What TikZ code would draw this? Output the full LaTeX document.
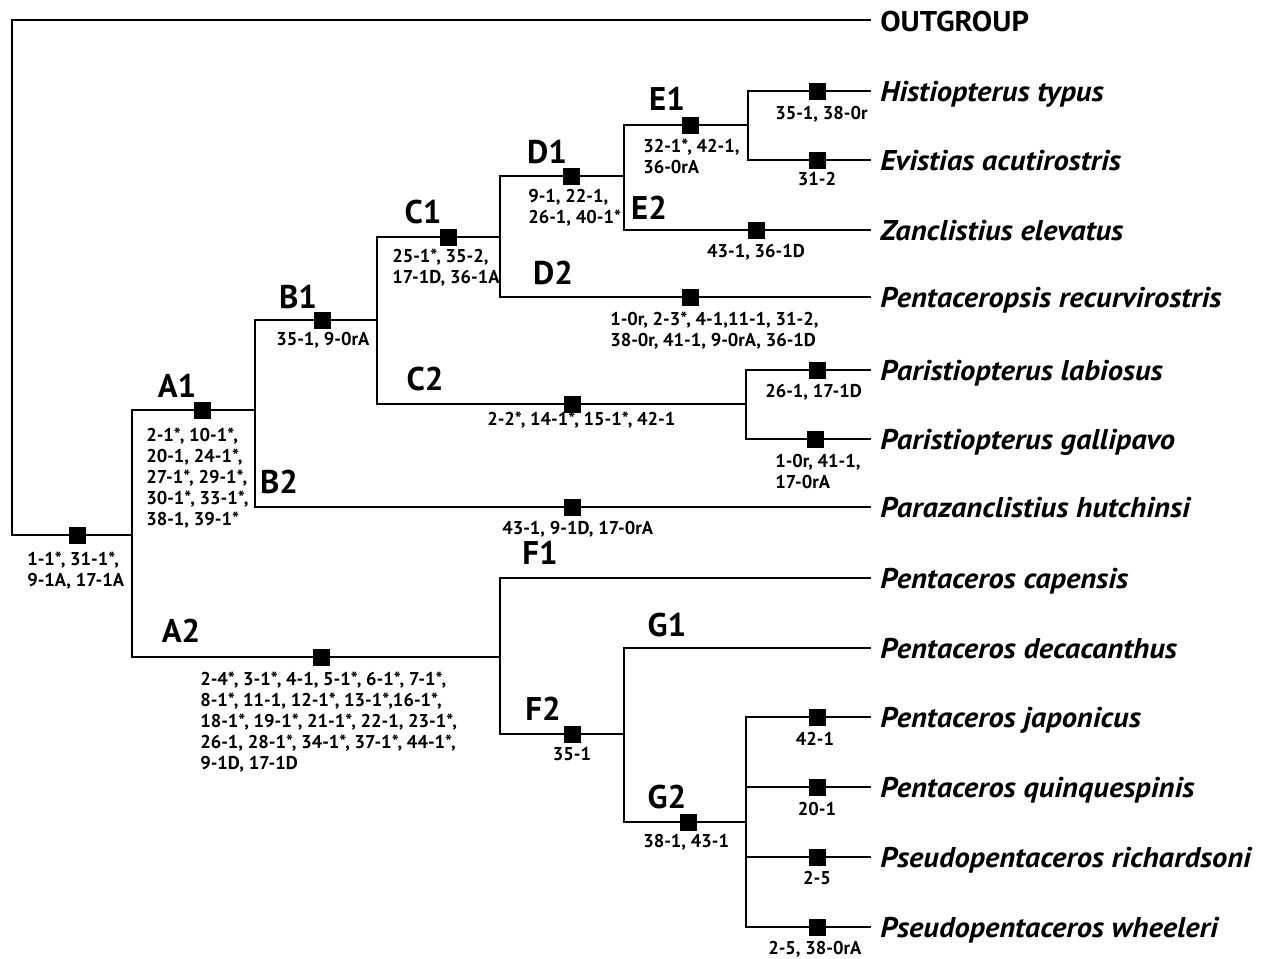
\documentclass[tikz,border=0pt]{standalone}
\usepackage{fontspec}
\setmainfont{PT Sans}
\newfontfamily\taxfont[FakeStretch=1.07]{PT Sans}
\begin{document}
\begin{tikzpicture}[x=0.75pt,y=-0.75pt,
  br/.style={line width=2.1pt,line cap=rect},
  sq/.style={fill=black,minimum size=12.75pt,inner sep=0pt},
  ch/.style={font=\fontsize{13.9}{15.75}\selectfont\bfseries,inner sep=0pt,align=left,anchor=north west},
  chc/.style={font=\fontsize{13.9}{15.75}\selectfont\bfseries,inner sep=0pt,align=center,anchor=north},
  cl/.style={font=\fontsize{24.6}{26}\selectfont\bfseries,inner sep=0pt,anchor=base},
  sp/.style={font=\taxfont\fontsize{21.4}{24}\selectfont\bfseries\itshape,inner sep=0pt,anchor=base west}]
\useasboundingbox (0,0) rectangle (1266,958);
% coordinates
\coordinate (RT) at (12,20);
\coordinate (R) at (12,535);
\coordinate (OG) at (870,20);
\coordinate (I) at (132,535);
\coordinate (Iu) at (132,410);
\coordinate (Id) at (132,657);
\coordinate (A1u) at (255,320);
\coordinate (A1d) at (255,507);
\coordinate (B1u) at (377,237);
\coordinate (B1d) at (377,404);
\coordinate (C1u) at (500,176);
\coordinate (C1d) at (500,297);
\coordinate (D1u) at (624,125);
\coordinate (D1d) at (624,230);
\coordinate (E1u) at (748,91);
\coordinate (E1d) at (748,160);
\coordinate (C2u) at (746,370);
\coordinate (C2d) at (746,439);
\coordinate (A2u) at (500,578);
\coordinate (A2d) at (500,734);
\coordinate (F2u) at (624,648);
\coordinate (F2d) at (624,822);
\coordinate (G2a) at (746,717);
\coordinate (G2b) at (746,787);
\coordinate (G2c) at (746,857);
\coordinate (G2d) at (746,927);
% tips
\coordinate (tHis) at (870,91);
\coordinate (tEvi) at (870,160);
\coordinate (tZan) at (870,230);
\coordinate (tPer) at (870,297);
\coordinate (tPla) at (870,370);
\coordinate (tPga) at (870,439);
\coordinate (tPhu) at (870,507);
\coordinate (tPca) at (870,578);
\coordinate (tPde) at (870,648);
\coordinate (tPja) at (870,717);
\coordinate (tPqu) at (870,787);
\coordinate (tPri) at (870,857);
\coordinate (tPwh) at (870,927);
% branches
\draw[br] (OG) -- (RT) -- (R) -- (I);
\draw[br] (Iu) -- (Id);
\draw[br] (Iu) -- (Iu -| A1u);
\draw[br] (A1u) -- (A1d);
\draw[br] (Id) -- (Id -| A2u);
\draw[br] (A1u) -- (A1u -| B1u);
\draw[br] (A1d) -- (tPhu);
\draw[br] (B1u) -- (B1d);
\draw[br] (B1u) -- (B1u -| C1u);
\draw[br] (B1d) -- (B1d -| C2u);
\draw[br] (C1u) -- (C1d);
\draw[br] (C1u) -- (C1u -| D1u);
\draw[br] (C1d) -- (tPer);
\draw[br] (D1u) -- (D1d);
\draw[br] (D1u) -- (D1u -| E1u);
\draw[br] (D1d) -- (tZan);
\draw[br] (E1u) -- (E1d);
\draw[br] (E1u) -- (tHis);
\draw[br] (E1d) -- (tEvi);
\draw[br] (C2u) -- (C2d);
\draw[br] (C2u) -- (tPla);
\draw[br] (C2d) -- (tPga);
\draw[br] (A2u) -- (A2d);
\draw[br] (A2u) -- (tPca);
\draw[br] (A2d) -- (A2d -| F2u);
\draw[br] (F2u) -- (F2d);
\draw[br] (F2u) -- (tPde);
\draw[br] (F2d) -- (F2d -| G2a);
\draw[br] (G2a) -- (G2d);
\draw[br] (G2a) -- (tPja);
\draw[br] (G2b) -- (tPqu);
\draw[br] (G2c) -- (tPri);
\draw[br] (G2d) -- (tPwh);
% squares
\node[sq] (sI) at (77,535) {};
\node[sq] (sA1) at (202,410) {};
\node[sq] (sA2) at (321,657) {};
\node[sq] (sB1) at (322,320) {};
\node[sq] (sB2) at (572,507) {};
\node[sq] (sC1) at (448,237) {};
\node[sq] (sC2) at (572,404) {};
\node[sq] (sD1) at (571,176) {};
\node[sq] (sD2) at (690,297) {};
\node[sq] (sE1) at (690,125) {};
\node[sq] (sE2) at (756,230) {};
\node[sq] (sHis) at (817,91) {};
\node[sq] (sEvi) at (817,160) {};
\node[sq] (sPla) at (817,370) {};
\node[sq] (sPga) at (815,439) {};
\node[sq] (sF2) at (572,734) {};
\node[sq] (sG2) at (688,822) {};
\node[sq] (sPja) at (817,717) {};
\node[sq] (sPqu) at (817,787) {};
\node[sq] (sPri) at (817,857) {};
\node[sq] (sPwh) at (817,927) {};
% clade labels
\node[cl] (lA1) at (177,397) {A1};
\node[cl] (lB1) at (298,308) {B1};
\node[cl] (lC1) at (423,223) {C1};
\node[cl] (lD1) at (547,163) {D1};
\node[cl] (lE1) at (667,110) {E1};
\node[cl] (lE2) at (649,219) {E2};
\node[cl] (lD2) at (553,284) {D2};
\node[cl] (lC2) at (425,390) {C2};
\node[cl] (lB2) at (279,493) {B2};
\node[cl] (lA2) at (181,642) {A2};
\node[cl] (lF1) at (540,564) {F1};
\node[cl] (lF2) at (543,720) {F2};
\node[cl] (lG1) at (667,636) {G1};
\node[cl] (lG2) at (667,808) {G2};
% character labels
\node[ch] (cI) at (27,552) {1-1*, 31-1*,\\9-1A, 17-1A};
\node[ch] (cA1) at (146,428) {2-1*, 10-1*,\\20-1, 24-1*,\\27-1*, 29-1*,\\30-1*, 33-1*,\\38-1, 39-1*};
\node[ch] (cA2) at (200,672) {2-4*, 3-1*, 4-1, 5-1*, 6-1*, 7-1*,\\8-1*, 11-1, 12-1*, 13-1*,16-1*,\\18-1*, 19-1*, 21-1*, 22-1, 23-1*,\\26-1, 28-1*, 34-1*, 37-1*, 44-1*,\\9-1D, 17-1D};
\node[ch] (cB1) at (276,332) {35-1, 9-0rA};
\node[ch] (cC1) at (392,249) {25-1*, 35-2,\\17-1D, 36-1A};
\node[ch] (cD1) at (528,189) {9-1, 22-1,\\26-1, 40-1*};
\node[ch] (cE1) at (643,139) {32-1*, 42-1,\\36-0rA};
\node[ch] (cHis) at (775,106) {35-1, 38-0r};
\node[chc] (cEvi) at (817,172) {31-2};
\node[chc] (cE2) at (756,244) {43-1, 36-1D};
\node[ch] (cD2) at (610,312) {1-0r, 2-3*, 4-1,11-1, 31-2,\\38-0r, 41-1, 9-0rA, 36-1D};
\node[ch] (cC2) at (487,412) {2-2*, 14-1*, 15-1*, 42-1};
\node[ch] (cPla) at (765,384) {26-1, 17-1D};
\node[ch] (cPga) at (775,454) {1-0r, 41-1,\\17-0rA};
\node[ch] (cB2) at (502,521) {43-1, 9-1D, 17-0rA};
\node[chc] (cF2) at (572,747) {35-1};
\node[ch] (cG2) at (643,834) {38-1, 43-1};
\node[chc] (cPja) at (815,732) {42-1};
\node[chc] (cPqu) at (817,802) {20-1};
\node[chc] (cPri) at (817,871) {2-5};
\node[ch] (cPwh) at (768,941) {2-5, 38-0rA};
% taxa
\node[sp,font=\taxfont\fontsize{21.4}{24}\selectfont\bfseries] (nOG) at (880,31) {OUTGROUP};
\node[sp] (nHis) at (880,101) {Histiopterus typus};
\node[sp] (nEvi) at (880,170) {Evistias acutirostris};
\node[sp] (nZan) at (880,240) {Zanclistius elevatus};
\node[sp] (nPer) at (880,307) {Pentaceropsis recurvirostris};
\node[sp] (nPla) at (880,380) {Paristiopterus labiosus};
\node[sp] (nPga) at (880,449) {Paristiopterus gallipavo};
\node[sp] (nPhu) at (880,517) {Parazanclistius hutchinsi};
\node[sp] (nPca) at (880,588) {Pentaceros capensis};
\node[sp] (nPde) at (880,658) {Pentaceros decacanthus};
\node[sp] (nPja) at (880,727) {Pentaceros japonicus};
\node[sp] (nPqu) at (880,797) {Pentaceros quinquespinis};
\node[sp] (nPri) at (880,867) {Pseudopentaceros richardsoni};
\node[sp] (nPwh) at (880,937) {Pseudopentaceros wheeleri};
\end{tikzpicture}
\end{document}
